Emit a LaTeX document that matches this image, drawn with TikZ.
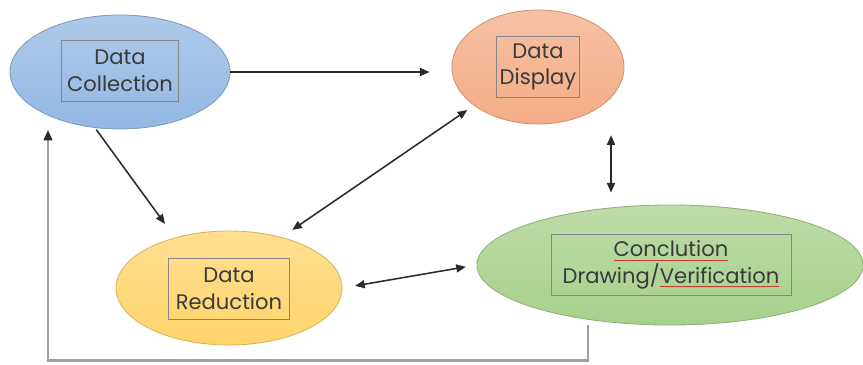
\documentclass[tikz,border=0pt]{standalone}
\usepackage{fontspec}
\setmainfont{Poppins}
\usetikzlibrary{shapes.geometric,arrows.meta}
\definecolor{txtgray}{HTML}{3A3A3A}
\definecolor{boxgray}{HTML}{858585}
\definecolor{arrgray}{HTML}{2A2A2A}
\definecolor{fbgray}{HTML}{A0A0A0}
\definecolor{spell}{HTML}{D03A2A}
\newcommand\spellmark[1]{\setbox0\hbox{#1}\rlap{\textcolor{spell}{\rule[-2.6pt]{\wd0}{0.6pt}}}\box0}
\begin{document}
\begin{tikzpicture}[x=0.025cm,y=-0.025cm,
    stage/.style={ellipse,draw=#1!85!black,line width=0.6pt,inner sep=0pt},
    tag/.style={draw=boxgray,line width=0.5pt,align=center,text=txtgray,
      font=\fontsize{15}{19}\selectfont,minimum height=1.53cm,inner sep=1pt},
    link/.style={draw=arrgray,line width=1.1pt,-{Triangle[length=0.24cm,width=0.2cm]}},
    both/.style={link,{Triangle[length=0.24cm,width=0.2cm]}-{Triangle[length=0.24cm,width=0.2cm]}}]
    \useasboundingbox (0,0) rectangle (863,364);
    \definecolor{dcol}{HTML}{93B8E3}\definecolor{ddis}{HTML}{F4AC86}
    \definecolor{dred}{HTML}{FFD46C}\definecolor{dcon}{HTML}{A7D08C}
    \node[stage=dcol,top color=dcol!75!white,bottom color=dcol,minimum width=5.5cm,minimum height=2.85cm] (coll) at (120,72) {};
    \node[stage=ddis,top color=ddis!75!white,bottom color=ddis,minimum width=4.3cm,minimum height=2.85cm] (disp) at (538,67) {};
    \node[stage=dred,top color=dred!75!white,bottom color=dred,minimum width=5.65cm,minimum height=2.85cm] (red) at (229,288) {};
    \node[stage=dcon,top color=dcon!75!white,bottom color=dcon,minimum width=9.65cm,minimum height=3cm] (concl) at (670,265) {};
    \node[tag,minimum width=2.93cm] (collT) at (120,71) {Data\\Collection};
    \node[tag,minimum width=2.08cm] (dispT) at (538,67) {Data\\Display};
    \node[tag,minimum width=3.03cm] (redT) at (229,289) {Data\\Reduction};
    \node[tag,minimum width=6cm] (conclT) at (671,265)
      {\spellmark{Conclution}\\Drawing/\spellmark{Verification}};
    \draw[link,shorten >=0.55cm] (coll.east) -- (coll.east -| disp.west);
    \draw[link,shorten <=0.05cm,shorten >=0.42cm] (coll.246.7) -- (red.137.2);
    \draw[both,shorten <=0.32cm,shorten >=0.2cm] (red.44.5) -- (disp.211.6);
    \draw[both,shorten <=0.32cm,shorten >=0.27cm] (red.east) -- (concl.west);
    \draw[both,shorten <=0.27cm,shorten >=0.3cm] ([xshift=1.825cm]disp.south) -- ([xshift=-1.475cm]concl.north);
    \coordinate (fbtip) at (48,130);
    \draw[fbgray,line width=1.5pt,-{Triangle[length=0.26cm,width=0.22cm,color=arrgray]}]
      ([xshift=-2.05cm]concl.south) -- ++(0,35) -| (fbtip);
  \end{tikzpicture}
\end{document}
